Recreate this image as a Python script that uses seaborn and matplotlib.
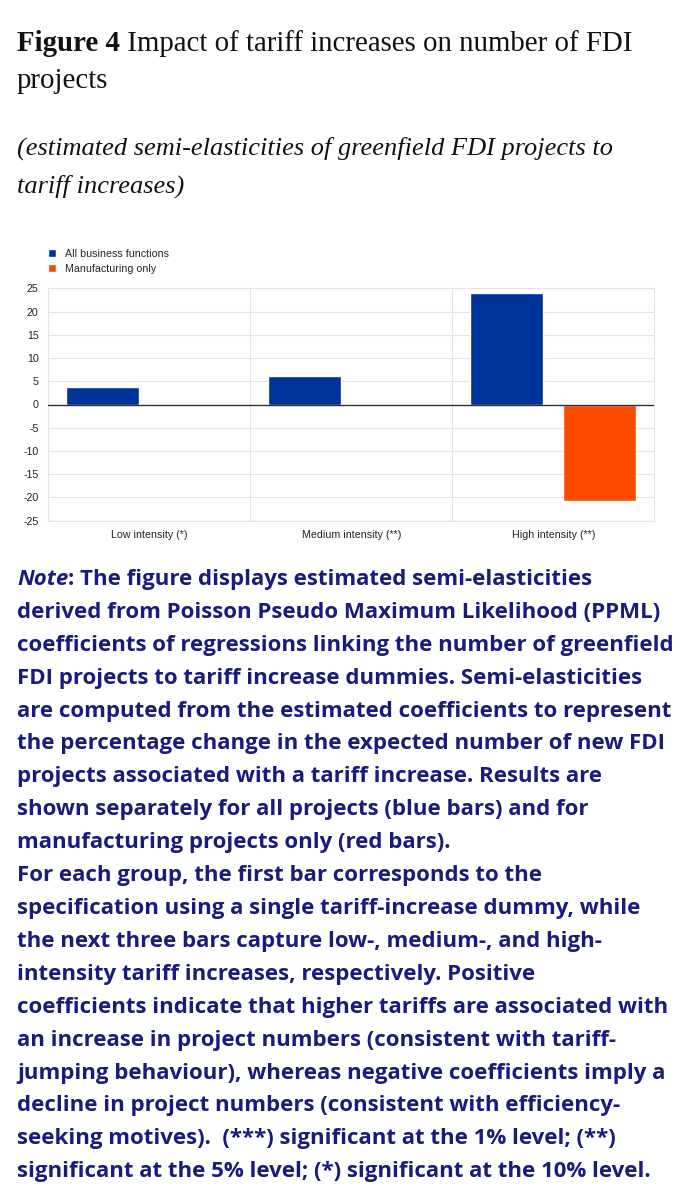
import matplotlib
matplotlib.use("Agg")
import matplotlib.pyplot as plt
import seaborn as sns
import pandas as pd
import numpy as np

# ---- data ----
categories = ["Low intensity (*)", "Medium intensity (**)", "High intensity (**)"]
series_names = ["All business functions", "Manufacturing only"]
all_business = [3.7, 6.2, 23.9]
manufacturing = [np.nan, np.nan, -20.7]
y_ticks = [25, 20, 15, 10, 5, 0, -5, -10, -15, -20, -25]

title_bold = "Figure 4"
title_rest = [" Impact of tariff increases on number of FDI", "projects"]
subtitle = ["(estimated semi-elasticities of greenfield FDI projects to",
            "tariff increases)"]
note_lines = [
    "The figure displays estimated semi-elasticities",
    "derived from Poisson Pseudo Maximum Likelihood (PPML)",
    "coefficients of regressions linking the number of greenfield",
    "FDI projects to tariff increase dummies. Semi-elasticities",
    "are computed from the estimated coefficients to represent",
    "the percentage change in the expected number of new FDI",
    "projects associated with a tariff increase. Results are",
    "shown separately for all projects (blue bars) and for",
    "manufacturing projects only (red bars).",
    "For each group, the first bar corresponds to the",
    "specification using a single tariff-increase dummy, while",
    "the next three bars capture low-, medium-, and high-",
    "intensity tariff increases, respectively. Positive",
    "coefficients indicate that higher tariffs are associated with",
    "an increase in project numbers (consistent with tariff-",
    "jumping behaviour), whereas negative coefficients imply a",
    "decline in project numbers (consistent with efficiency-",
    "seeking motives).  (***) significant at the 1% level; (**)",
    "significant at the 5% level; (*) significant at the 10% level.",
]

BLUE = "#003399"
ORANGE = "#FF4B00"
NAVY = "#1b1b7d"
GRID = "#e4e4e4"

rows = []
for c, a, m in zip(categories, all_business, manufacturing):
    rows.append((c, series_names[0], a))
    rows.append((c, series_names[1], m))
df = pd.DataFrame(rows, columns=["category", "series", "value"]).dropna()

sns.set_theme(style="white")
plt.rcParams["font.family"] = ["Liberation Sans", "DejaVu Sans"]

W, H = 6.8, 12.0
fig = plt.figure(figsize=(W, H), dpi=100)

def fx(px):
    return px / 680.0

def fy(py):
    return 1 - py / 1200.0

ax = fig.add_axes([fx(48.3), fy(520.7), fx(654.3) - fx(48.3), fy(288.3) - fy(520.7)])
sns.barplot(data=df, x="category", y="value", hue="series", order=categories,
            hue_order=series_names, palette=[BLUE, ORANGE], saturation=1,
            width=0.92, gap=0.215, errorbar=None, ax=ax)

ax.set_xlim(-0.5, 2.5)
ax.set_ylim(-25, 25)
ax.set_yticks(y_ticks)
ax.set_yticklabels([str(t) for t in y_ticks])
ax.set_xticks([0, 1, 2])
ax.set_xticklabels(categories)
ax.set_xticks([0.5, 1.5], minor=True)
ax.set_xlabel("")
ax.set_ylabel("")
ax.tick_params(axis="both", which="both", length=0, labelsize=7.7, colors="#222222")
ax.tick_params(axis="y", pad=7)
ax.tick_params(axis="x", pad=7)
ax.grid(axis="y", which="major", color=GRID, lw=0.8)
ax.grid(axis="x", which="minor", color=GRID, lw=0.8)
ax.grid(axis="x", which="major", visible=False)
ax.set_axisbelow(True)
for s in ax.spines.values():
    s.set_color(GRID)
    s.set_linewidth(0.8)
ax.axhline(0, color="#333333", lw=1.0, zorder=3)

leg = ax.legend(loc="upper left", bbox_to_anchor=(fx(48), fy(249)),
                bbox_transform=fig.transFigure, frameon=False, fontsize=7.7,
                handlelength=0.75, handleheight=0.75, handletextpad=0.85,
                labelspacing=0.45, borderaxespad=0, borderpad=0)

# ---- titles ----
renderer = fig.canvas.get_renderer()
serif = ["Liberation Serif", "DejaVu Serif"]
tsize = 20.8
t1 = fig.text(fx(17), fy(51), title_bold, fontsize=tsize, fontweight="bold",
              family=serif, color="#111111", va="baseline")
bb = t1.get_window_extent(renderer)
fig.text(bb.x1 / (W * 100), fy(51), title_rest[0], fontsize=tsize,
         family=serif, color="#111111", va="baseline")
fig.text(fx(17), fy(88), title_rest[1], fontsize=tsize, family=serif,
         color="#111111", va="baseline")
ssize = 19.0
fig.text(fx(17), fy(155), subtitle[0], fontsize=ssize, family=serif,
         style="italic", color="#111111", va="baseline")
fig.text(fx(17), fy(193), subtitle[1], fontsize=ssize, family=serif,
         style="italic", color="#111111", va="baseline")

# ---- note ----
nfam = ["Open Sans", "DejaVu Sans"]
nsize = 16.0
y0 = 585
step = 32.9
tn = fig.text(fx(17), fy(y0), "Note", fontsize=nsize, fontweight="bold",
              style="italic", family=nfam, color=NAVY, va="baseline")
bb = tn.get_window_extent(renderer)
fig.text(bb.x1 / (W * 100), fy(y0), ": " + note_lines[0], fontsize=nsize,
         fontweight="bold", family=nfam, color=NAVY, va="baseline")
for i, line in enumerate(note_lines[1:], start=1):
    fig.text(fx(17), fy(y0 + i * step), line, fontsize=nsize, fontweight="bold",
             family=nfam, color=NAVY, va="baseline")

fig.savefig("out.png", dpi=100, facecolor="white")
